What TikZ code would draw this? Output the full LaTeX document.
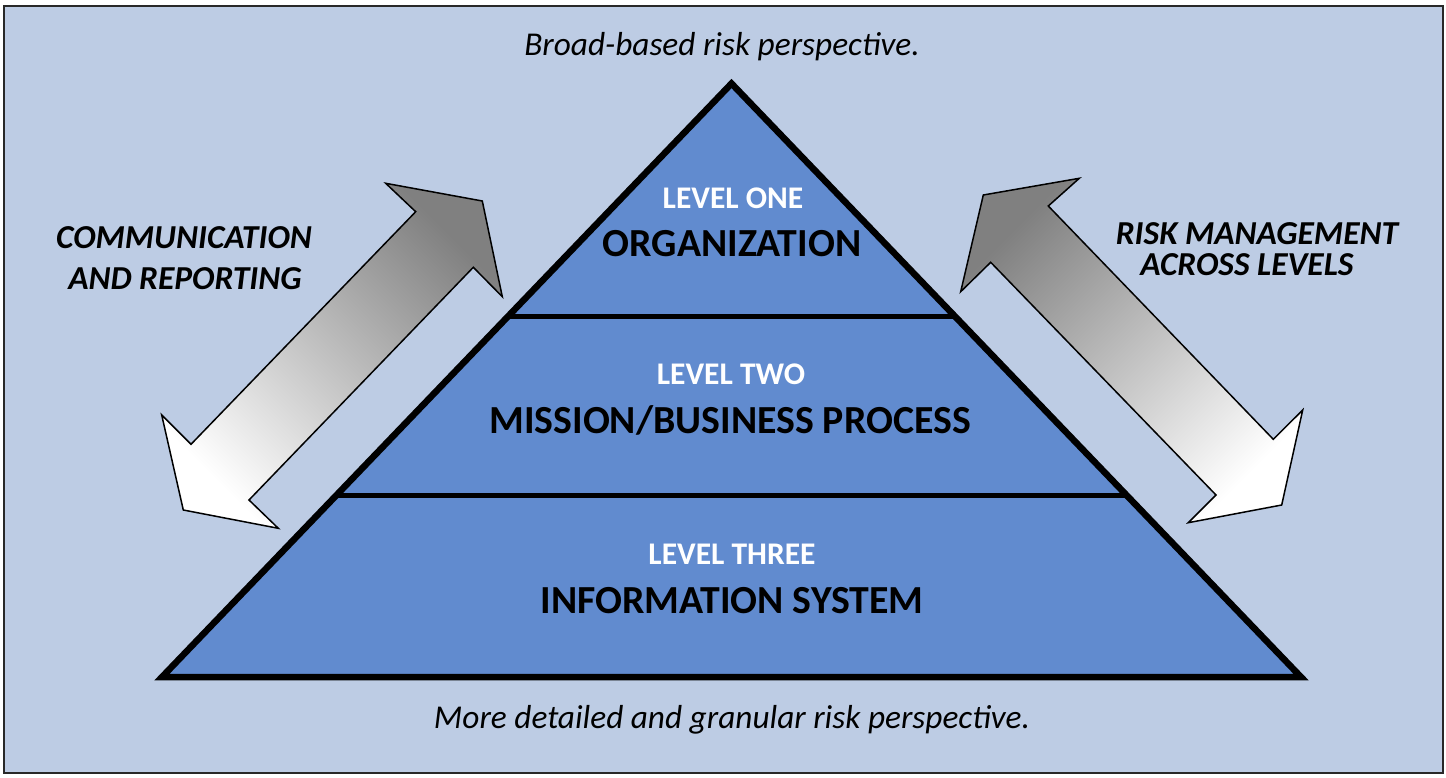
\documentclass[tikz,border=0pt]{standalone}
\usepackage{fontspec}
\setmainfont{Carlito}
\usepackage{tikz}
\usetikzlibrary{calc, positioning}
\definecolor{panelcolor}{RGB}{189,204,228}
\definecolor{tiercolor}{RGB}{97,139,207}
\definecolor{framecolor}{RGB}{40,40,40}

\begin{document}
\begin{tikzpicture}[
    x=1pt, y=-1pt,
    tiername/.style={font=\fontsize{39.8}{44}\selectfont\bfseries, anchor=base},
    tiertag/.style={font=\fontsize{31.5}{36}\selectfont\bfseries, text=white, anchor=base},
    sidenote/.style={font=\fontsize{33.5}{38}\selectfont\bfseries\itshape, anchor=base},
    perspective/.style={font=\fontsize{33.3}{38}\selectfont\itshape, anchor=base},
    flow/.style={draw=black, line width=1.5pt, line join=miter}
]
    \useasboundingbox (0,0) rectangle (1446,778);
    \draw[framecolor, line width=2pt, fill=panelcolor] (4,6) rectangle (1443,773);

    \coordinate (apex) at (731.5,83.5);
    \coordinate (bl) at (162,677);
    \coordinate (br) at (1301,677);
    \draw[line width=6.5pt, line join=miter, fill=tiercolor] (apex) -- (bl) -- (br) -- cycle;
    \draw[line width=5.5pt] ($(bl)!0.6074!(apex)$) -- ($(br)!0.6074!(apex)$);
    \draw[line width=5.5pt] ($(bl)!0.3058!(apex)$) -- ($(br)!0.3058!(apex)$);

    \draw[flow, top color=black!50, bottom color=white, shading angle=-45]
        (482.3,201) -- (502.3,296.7) -- (473.3,267.3) -- (249,500) -- (278.3,528.3)
        -- (183.3,510) -- (161.7,415) -- (191,444.3) -- (415.7,211.7) -- (385.7,183.3) -- cycle;
    \draw[flow, top color=black!50, bottom color=white, shading angle=45]
        (983.3,195) -- (1079.3,178.3) -- (1048.3,206) -- (1273.3,439.3) -- (1302.7,410)
        -- (1281.7,505) -- (1188.3,522.7) -- (1216,495) -- (990.7,262.3) -- (960.7,291.7) -- cycle;

    \node[perspective] (top) at (722,56) {Broad-based risk perspective.};
    \node[perspective] (bottom) at (732,728) {More detailed and granular risk perspective.};

    \node[tiertag] (one) at (733,209) {LEVEL ONE};
    \node[tiername] (org) at (732,257) {ORGANIZATION};
    \node[tiertag] (two) at (731,384) {LEVEL TWO};
    \node[tiername] (mission) at (730,433) {MISSION/BUSINESS PROCESS};
    \node[tiertag] (three) at (732,564) {LEVEL THREE};
    \node[tiername] (info) at (732,613) {INFORMATION SYSTEM};

    \node[sidenote] (comm) at (184,249) {COMMUNICATION};
    \node[sidenote] (report) at (185,289) {AND REPORTING};
    \node[sidenote] (risk) at (1257,244) {RISK MANAGEMENT};
    \node[sidenote] (levels) at (1247,276) {ACROSS LEVELS};
\end{tikzpicture}
\end{document}
